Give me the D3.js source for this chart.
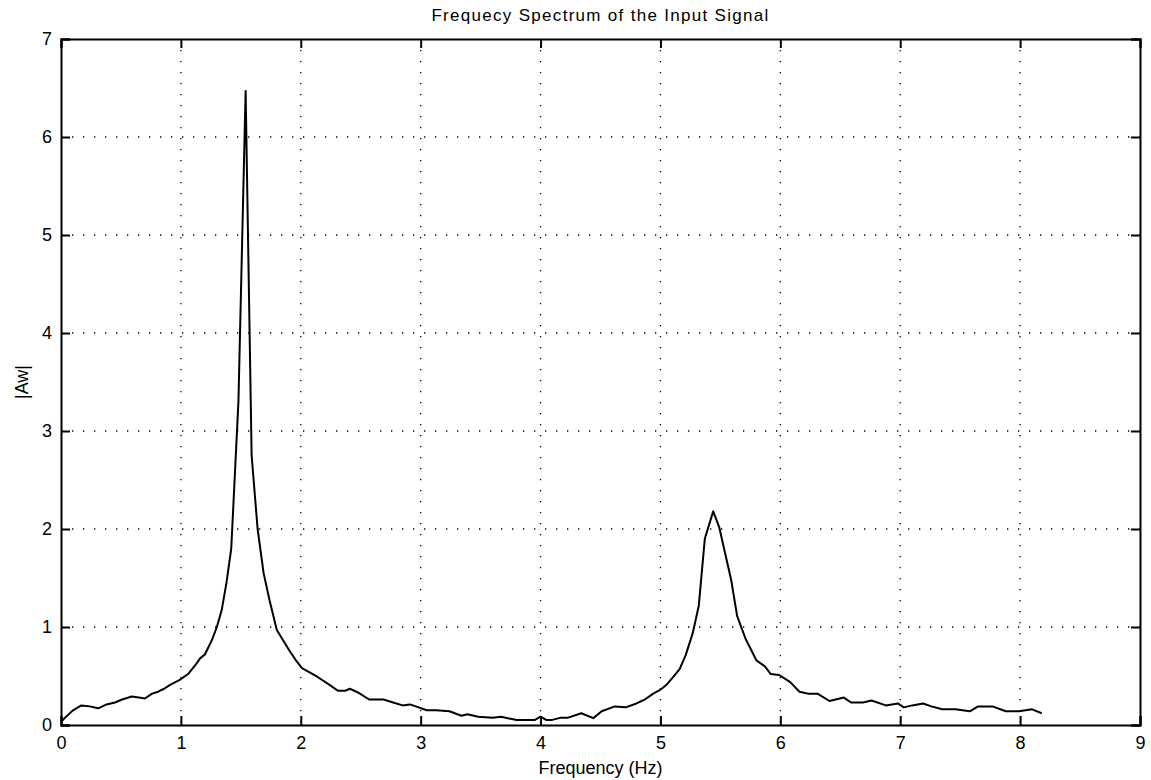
<!doctype html>
<html>
<head>
<meta charset="utf-8">
<title>Frequecy Spectrum of the Input Signal</title>
<script src="https://cdn.jsdelivr.net/npm/d3@7"></script>
<style>
  body { margin: 0; background: #fff; }
  svg text { font-family: "Liberation Sans", Arial, Helvetica, sans-serif; fill: #000; }
</style>
</head>
<body>
<div id="chart"></div>
<script>
// values
var freq = [0.00, 0.03, 0.10, 0.17, 0.24, 0.31, 0.38, 0.45, 0.51, 0.59, 0.65, 0.70, 0.76, 0.81, 0.86, 0.91, 0.99,
  1.06, 1.12, 1.16, 1.20, 1.26, 1.30, 1.34, 1.38, 1.42, 1.48, 1.54, 1.59, 1.64, 1.69, 1.74, 1.80, 1.86, 1.91, 1.96,
  2.01, 2.07, 2.14, 2.24, 2.31, 2.37, 2.41, 2.48, 2.57, 2.69, 2.77, 2.85, 2.91, 2.96, 3.05, 3.13, 3.24, 3.34, 3.39,
  3.48, 3.60, 3.67, 3.80, 3.95, 4.00, 4.05, 4.09, 4.17, 4.23, 4.34, 4.44, 4.51, 4.62, 4.71, 4.80, 4.87, 4.94, 5.00,
  5.05, 5.10, 5.16, 5.21, 5.27, 5.32, 5.37, 5.44, 5.49, 5.54, 5.59, 5.64, 5.71, 5.80, 5.87, 5.92, 5.99, 6.08, 6.16,
  6.23, 6.31, 6.41, 6.53, 6.59, 6.69, 6.76, 6.88, 6.98, 7.03, 7.10, 7.19, 7.26, 7.35, 7.46, 7.58, 7.65, 7.77, 7.88,
  7.99, 8.10, 8.18];
var amp = [0.03, 0.07, 0.15, 0.20, 0.19, 0.17, 0.21, 0.23, 0.26, 0.29, 0.28, 0.27, 0.32, 0.34, 0.37, 0.41, 0.46,
  0.52, 0.61, 0.68, 0.72, 0.87, 1.00, 1.17, 1.45, 1.80, 3.30, 6.47, 2.75, 2.00, 1.55, 1.27, 0.97, 0.85, 0.75, 0.66,
  0.58, 0.54, 0.49, 0.41, 0.35, 0.35, 0.37, 0.33, 0.26, 0.26, 0.23, 0.20, 0.21, 0.19, 0.15, 0.15, 0.14, 0.095, 0.11,
  0.085, 0.075, 0.085, 0.05, 0.05, 0.085, 0.05, 0.05, 0.075, 0.075, 0.12, 0.07, 0.14, 0.19, 0.18, 0.22, 0.26, 0.32, 0.36,
  0.41, 0.48, 0.57, 0.71, 0.94, 1.22, 1.90, 2.18, 2.02, 1.75, 1.48, 1.11, 0.88, 0.66, 0.60, 0.52, 0.51, 0.44, 0.34,
  0.32, 0.32, 0.245, 0.28, 0.23, 0.23, 0.25, 0.20, 0.22, 0.18, 0.20, 0.22, 0.19, 0.16, 0.16, 0.14, 0.19, 0.19, 0.14,
  0.14, 0.16, 0.12];
var xTicks = [0, 1, 2, 3, 4, 5, 6, 7, 8, 9];
var yTicks = [0, 1, 2, 3, 4, 5, 6, 7];

var W = 1151, H = 780;
var margin = {top: 39, right: 11, bottom: 55, left: 61};
var iw = W - margin.left - margin.right, ih = H - margin.top - margin.bottom;

var svg = d3.select("#chart").append("svg").attr("width", W).attr("height", H);
var g = svg.append("g").attr("transform", "translate(" + margin.left + "," + margin.top + ")");

var x = d3.scaleLinear().domain([0, 9]).range([0, iw]);
var y = d3.scaleLinear().domain([0, 7]).range([ih, 0]);

// dotted grid
g.append("g").selectAll("line").data(xTicks.slice(1, -1)).enter().append("line")
  .attr("x1", function(d) { return x(d); }).attr("x2", function(d) { return x(d); })
  .attr("y1", 0).attr("y2", ih)
  .attr("stroke", "#000").attr("stroke-width", 1.3).attr("stroke-dasharray", "1.3,9.7");
g.append("g").selectAll("line").data(yTicks.slice(1, -1)).enter().append("line")
  .attr("x1", 0).attr("x2", iw)
  .attr("y1", function(d) { return y(d); }).attr("y2", function(d) { return y(d); })
  .attr("stroke", "#000").attr("stroke-width", 1.3).attr("stroke-dasharray", "1.3,9.7");

// axes, ticks pointing inward (matlab style)
var xb = g.append("g").attr("transform", "translate(0," + ih + ")")
  .call(d3.axisBottom(x).tickValues(xTicks).tickSize(-9).tickPadding(11).tickFormat(d3.format("d")));
var xt = g.append("g").call(d3.axisTop(x).tickValues(xTicks).tickSize(-9).tickFormat(""));
var yl = g.append("g").call(d3.axisLeft(y).tickValues(yTicks).tickSize(-9).tickPadding(9).tickFormat(d3.format("d")));
var yr = g.append("g").attr("transform", "translate(" + iw + ",0)")
  .call(d3.axisRight(y).tickValues(yTicks).tickSize(-9).tickFormat(""));

[xb, xt, yl, yr].forEach(function(a) {
  a.select(".domain").attr("stroke", "#000").attr("stroke-width", 2);
  a.selectAll(".tick line").attr("stroke", "#000").attr("stroke-width", 2);
  a.selectAll("text").attr("font-size", "18px").attr("fill", "#000");
});

// spectrum line
var line = d3.line().x(function(d) { return x(d); }).y(function(d, i) { return y(amp[i]); });
g.append("path").datum(freq)
  .attr("d", line)
  .attr("fill", "none").attr("stroke", "#000").attr("stroke-width", 2).attr("stroke-linejoin", "round");

// labels
svg.append("text").attr("x", margin.left + iw / 2).attr("y", 21)
  .attr("text-anchor", "middle").attr("font-size", "17px").attr("letter-spacing", "1.3px")
  .text("Frequecy Spectrum of the Input Signal");
svg.append("text").attr("x", margin.left + iw / 2).attr("y", 774)
  .attr("text-anchor", "middle").attr("font-size", "18px")
  .text("Frequency (Hz)");
svg.append("text").attr("transform", "translate(28," + (margin.top + ih / 2) + ") rotate(-90)")
  .attr("text-anchor", "middle").attr("font-size", "18px")
  .text("|Aw|");
</script>
</body>
</html>
